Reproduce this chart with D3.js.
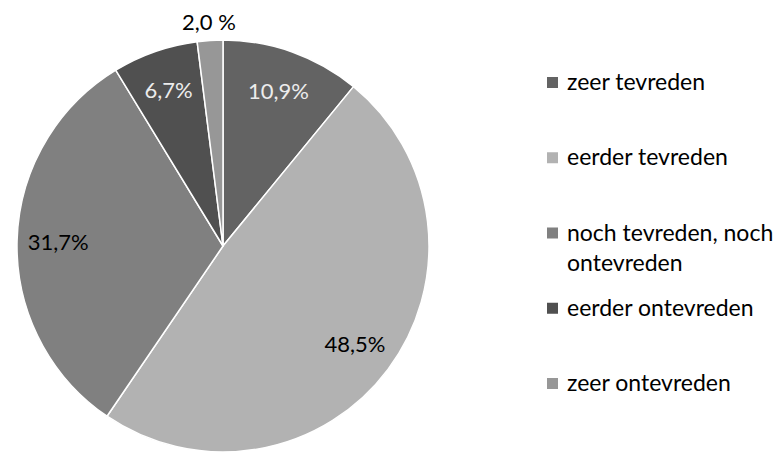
<!DOCTYPE html>
<html>
<head>
<meta charset="utf-8">
<script src="https://cdn.jsdelivr.net/npm/d3@7"></script>
<style>
  body { margin: 0; background: #fff; }
  svg { display: block; font-family: Lato, "Open Sans", sans-serif; }
</style>
</head>
<body>
<div id="chart"></div>
<script>
// Satisfaction shares (percent), clockwise from 12 o'clock
const categories = ['zeer tevreden', 'eerder tevreden', 'noch tevreden, noch ontevreden', 'eerder ontevreden', 'zeer ontevreden'];
const values = [10.9, 48.5, 31.7, 6.7, 2.0];
const valueLabels = ['10,9%', '48,5%', '31,7%', '6,7%', '2,0 %'];
const legendLines = [['zeer tevreden'], ['eerder tevreden'], ['noch tevreden, noch', 'ontevreden'], ['eerder ontevreden'], ['zeer ontevreden']];

const colors = ['#636363', '#b2b2b2', '#808080', '#505050', '#979797'];
const labelColors = ['#ececec', '#000', '#000', '#ececec', '#000'];

const width = 777, height = 454;
const cx = 223, cy = 246, radius = 206;

const svg = d3.select('#chart').append('svg')
    .attr('width', width)
    .attr('height', height);

svg.append('rect').attr('width', width).attr('height', height).attr('fill', '#fff');

const data = categories.map((c, i) => ({ name: c, value: values[i], label: valueLabels[i], i }));

const pie = d3.pie().value(d => d.value).sort(null);
const arcs = pie(data);

const arc = d3.arc().innerRadius(0).outerRadius(radius);
const labelArc = d3.arc().innerRadius(radius * 0.8).outerRadius(radius * 0.8);
const outerLabelArc = d3.arc().innerRadius(radius * 1.09).outerRadius(radius * 1.09);

const g = svg.append('g').attr('transform', `translate(${cx},${cy})`);

g.selectAll('path.slice')
    .data(arcs)
    .enter()
    .append('path')
    .attr('class', 'slice')
    .attr('d', arc)
    .attr('fill', d => colors[d.data.i])
    .attr('stroke', '#fff')
    .attr('stroke-width', 1.5)
    .attr('stroke-linejoin', 'round');

// Data labels; the tiny last slice gets its label outside
g.selectAll('text.value')
    .data(arcs)
    .enter()
    .append('text')
    .attr('class', 'value')
    .attr('transform', d => {
        const [x, y] = (d.data.i === 4 ? outerLabelArc : labelArc).centroid(d);
        return `translate(${x},${y})`;
    })
    .attr('text-anchor', 'middle')
    .attr('dy', '0.35em')
    .style('font-size', '22px')
    .style('fill', d => labelColors[d.data.i])
    .text(d => d.data.label);

// Legend
const legendY = d3.scalePoint()
    .domain(categories)
    .range([82, 383]);

const legend = svg.append('g').attr('class', 'legend');

const item = legend.selectAll('g.item')
    .data(data)
    .enter()
    .append('g')
    .attr('class', 'item')
    .attr('transform', d => `translate(547,${legendY(d.name)})`);

item.append('rect')
    .attr('x', 0)
    .attr('y', -5)
    .attr('width', 11)
    .attr('height', 11)
    .attr('fill', d => colors[d.i]);

item.append('text')
    .attr('x', 20)
    .attr('y', 0)
    .style('font-size', '23px')
    .style('fill', '#000')
    .selectAll('tspan')
    .data(d => legendLines[d.i])
    .enter()
    .append('tspan')
    .attr('x', 20)
    .attr('dy', (t, j) => j === 0 ? '0.35em' : '30px')
    .text(t => t);
</script>
</body>
</html>
